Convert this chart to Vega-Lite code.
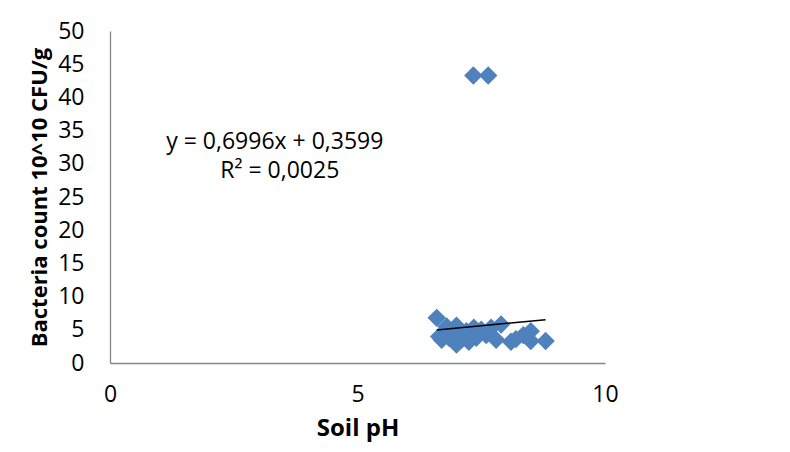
{
  "$schema": "https://vega.github.io/schema/vega-lite/v6.json",
  "width": 495,
  "height": 332,
  "autosize": {"type": "none"},
  "padding": {"left": 110, "top": 31, "right": 185, "bottom": 89},
  "background": "white",
  "config": {"view": {"stroke": null}, "font": "Open Sans"},
  "datasets": {
    "pts": [
      {"pH": 7.34, "count": 43.3},
      {"pH": 7.64, "count": 43.3},
      {"pH": 6.6, "count": 6.8},
      {"pH": 6.65, "count": 4.0},
      {"pH": 6.7, "count": 3.5},
      {"pH": 6.8, "count": 5.5},
      {"pH": 6.85, "count": 3.8},
      {"pH": 6.9, "count": 4.5},
      {"pH": 7.0, "count": 5.6},
      {"pH": 7.0, "count": 2.8},
      {"pH": 7.1, "count": 3.5},
      {"pH": 7.2, "count": 4.8},
      {"pH": 7.25, "count": 3.2},
      {"pH": 7.35, "count": 5.3},
      {"pH": 7.4, "count": 3.8},
      {"pH": 7.5, "count": 5.0},
      {"pH": 7.6, "count": 4.2},
      {"pH": 7.7, "count": 5.3},
      {"pH": 7.8, "count": 3.5},
      {"pH": 7.9, "count": 5.8},
      {"pH": 8.1, "count": 3.2},
      {"pH": 8.2, "count": 3.6},
      {"pH": 8.35, "count": 4.2},
      {"pH": 8.5, "count": 4.8},
      {"pH": 8.5, "count": 3.3},
      {"pH": 8.8, "count": 3.3}
    ],
    "trend": [
      {"pH": 6.6, "count": 4.977},
      {"pH": 8.8, "count": 6.516}
    ],
    "notes": [
      {"label": "y = 0,6996x + 0,3599", "pH": 3.33, "count": 33.3},
      {"label": "R² = 0,0025", "pH": 3.43, "count": 28.9}
    ]
  },
  "encoding": {
    "x": {
      "field": "pH", "type": "quantitative",
      "scale": {"domain": [0, 10], "nice": false, "zero": false},
      "axis": {
        "values": [0, 5, 10], "grid": false, "ticks": false, "domainColor": "#868686", "domainWidth": 1.3,
        "labelFontSize": 23, "labelColor": "#000000", "labelPadding": 20, "labelFont": "Open Sans",
        "labelFlush": false, "labelOverlap": false,
        "title": "Soil pH", "titleFontSize": 24, "titleFontWeight": "bold", "titleColor": "#000000", "titlePadding": 10, "titleFont": "Open Sans"
      }
    },
    "y": {
      "field": "count", "type": "quantitative",
      "scale": {"domain": [0, 50], "nice": false},
      "axis": {
        "values": [0, 5, 10, 15, 20, 25, 30, 35, 40, 45, 50], "grid": false, "ticks": false, "domainColor": "#868686", "domainWidth": 1.3,
        "labelFontSize": 23, "labelColor": "#000000", "labelPadding": 26, "labelFont": "Open Sans",
        "labelFlush": false, "labelOverlap": false, "labelBound": false,
        "title": "Bacteria count 10^10 CFU/g", "titleFontSize": 22, "titleFontWeight": "bold", "titleColor": "#000000", "titlePadding": 6, "titleFont": "Open Sans"
      }
    }
  },
  "layer": [
    {
      "data": {"name": "pts"},
      "mark": {"type": "point", "shape": "diamond", "filled": true, "size": 340, "color": "#4F81BD", "opacity": 1}
    },
    {
      "data": {"name": "trend"},
      "mark": {"type": "line", "color": "#000000", "strokeWidth": 1.5}
    },
    {
      "data": {"name": "notes"},
      "mark": {"type": "text", "fontSize": 23, "font": "Open Sans", "color": "#000000", "align": "center", "baseline": "middle"},
      "encoding": {
        "text": {"field": "label"}
      }
    }
  ]
}
